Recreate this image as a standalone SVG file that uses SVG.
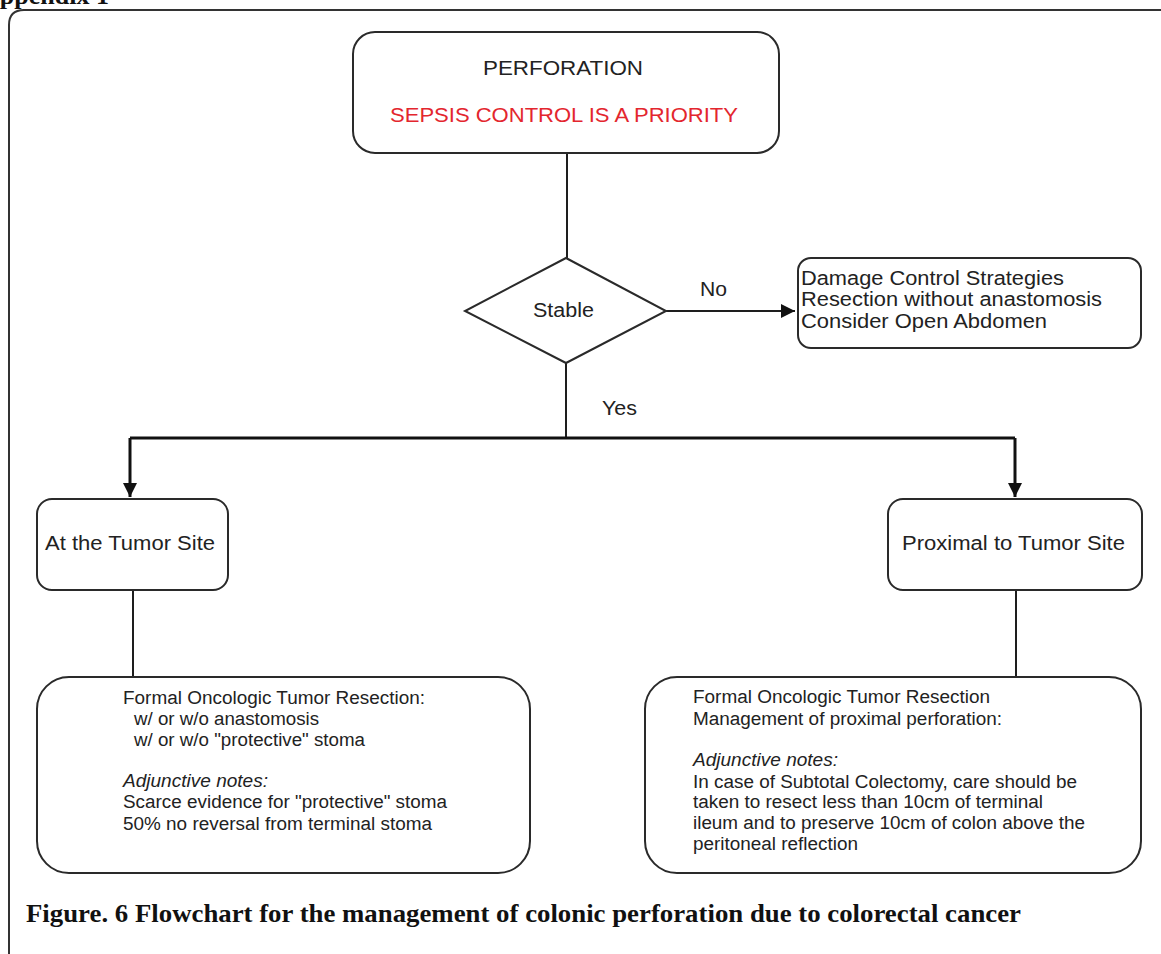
<svg xmlns="http://www.w3.org/2000/svg" width="1161" height="954" viewBox="0 0 1161 954">
<style>
.box{fill:#fff;stroke:#2a2a2a;stroke-width:2}
.ln{fill:none;stroke:#1e1e1e;stroke-width:2}
.thick{fill:none;stroke:#111;stroke-width:3}
.t{font-family:"Liberation Sans",Arial,sans-serif;fill:#222;font-size:18px}
.big{font-size:20px}
.it{font-style:italic}
.red{fill:#e3262e}
.serif{font-family:"Liberation Serif","Times New Roman",serif;font-weight:bold;fill:#111}
</style>
<defs>
<marker id="arr" markerUnits="userSpaceOnUse" markerWidth="16" markerHeight="14" refX="14" refY="7" orient="auto">
<path d="M0,0 L14,7 L0,14 z" fill="#111"/>
</marker>
</defs>
<rect width="1161" height="954" fill="#fff"/>
<text class="serif" x="-19" y="4" font-size="26">Appendix 1</text>
<path d="M9,954 L9,25 Q9,10 24,10 L1161,10" fill="none" stroke="#333" stroke-width="2"/>

<g id="connectors">
<path class="ln" d="M567,153 L567,258"/>
<path class="ln" d="M666,311 L795,311" marker-end="url(#arr)"/>
<path class="ln" d="M566,363 L566,438"/>
<path class="thick" d="M130,438 L1015,438"/>
<path class="thick" d="M130,438 L130,497" marker-end="url(#arr)"/>
<path class="thick" d="M1015,438 L1015,497" marker-end="url(#arr)"/>
<path class="ln" d="M133,590 L133,677"/>
<path class="ln" d="M1016,590 L1016,677"/>
<text class="t big" x="700" y="296" textLength="27" lengthAdjust="spacingAndGlyphs">No</text>
<text class="t big" x="602" y="415" textLength="35" lengthAdjust="spacingAndGlyphs">Yes</text>
</g>

<g id="perforation">
<rect class="box" x="353" y="32" width="426" height="121" rx="22"/>
<text class="t big" x="483" y="75" textLength="160" lengthAdjust="spacingAndGlyphs">PERFORATION</text>
<text class="t big red" x="390" y="122" textLength="348" lengthAdjust="spacingAndGlyphs">SEPSIS CONTROL IS A PRIORITY</text>
</g>

<g id="stable">
<polygon class="box" points="566,258 666,311 566,363 465,311"/>
<text class="t big" x="533" y="317" textLength="61" lengthAdjust="spacingAndGlyphs">Stable</text>
</g>

<g id="damage">
<rect class="box" x="798" y="258" width="343" height="90" rx="13"/>
<text class="t big" x="801" y="285" textLength="263" lengthAdjust="spacingAndGlyphs">Damage Control Strategies</text>
<text class="t big" x="801" y="306" textLength="301" lengthAdjust="spacingAndGlyphs">Resection without anastomosis</text>
<text class="t big" x="801" y="328" textLength="246" lengthAdjust="spacingAndGlyphs">Consider Open Abdomen</text>
</g>

<g id="tumor-site">
<rect class="box" x="37" y="499" width="191" height="91" rx="15"/>
<text class="t big" x="45" y="550" textLength="170" lengthAdjust="spacingAndGlyphs">At the Tumor Site</text>
</g>

<g id="proximal">
<rect class="box" x="888" y="499" width="254" height="91" rx="15"/>
<text class="t big" x="902" y="550" textLength="223" lengthAdjust="spacingAndGlyphs">Proximal to Tumor Site</text>
</g>

<g id="left-detail">
<rect class="box" x="37" y="677" width="493" height="196" rx="32"/>
<text class="t" x="123" y="704" textLength="302" lengthAdjust="spacingAndGlyphs">Formal Oncologic Tumor Resection:</text>
<text class="t" x="134" y="725" textLength="185" lengthAdjust="spacingAndGlyphs">w/ or w/o anastomosis</text>
<text class="t" x="134" y="746" textLength="231" lengthAdjust="spacingAndGlyphs">w/ or w/o "protective" stoma</text>
<text class="t it" x="123" y="787" textLength="145" lengthAdjust="spacingAndGlyphs">Adjunctive notes:</text>
<text class="t" x="123" y="808" textLength="324" lengthAdjust="spacingAndGlyphs">Scarce evidence for "protective" stoma</text>
<text class="t" x="123" y="830" textLength="309" lengthAdjust="spacingAndGlyphs">50% no reversal from terminal stoma</text>
</g>

<g id="right-detail">
<rect class="box" x="645" y="677" width="496" height="196" rx="32"/>
<text class="t" x="693" y="703" textLength="297" lengthAdjust="spacingAndGlyphs">Formal Oncologic Tumor Resection</text>
<text class="t" x="693" y="725" textLength="309" lengthAdjust="spacingAndGlyphs">Management of proximal perforation:</text>
<text class="t it" x="693" y="766" textLength="145" lengthAdjust="spacingAndGlyphs">Adjunctive notes:</text>
<text class="t" x="693" y="788" textLength="384" lengthAdjust="spacingAndGlyphs">In case of Subtotal Colectomy, care should be</text>
<text class="t" x="693" y="808" textLength="350" lengthAdjust="spacingAndGlyphs">taken to resect less than 10cm of terminal</text>
<text class="t" x="693" y="829" textLength="392" lengthAdjust="spacingAndGlyphs">ileum and to preserve 10cm of colon above the</text>
<text class="t" x="693" y="850" textLength="165" lengthAdjust="spacingAndGlyphs">peritoneal reflection</text>
</g>

<text class="serif" x="26" y="922" font-size="26" textLength="995" lengthAdjust="spacingAndGlyphs">Figure. 6 Flowchart for the management of colonic perforation due to colorectal cancer</text>
</svg>
